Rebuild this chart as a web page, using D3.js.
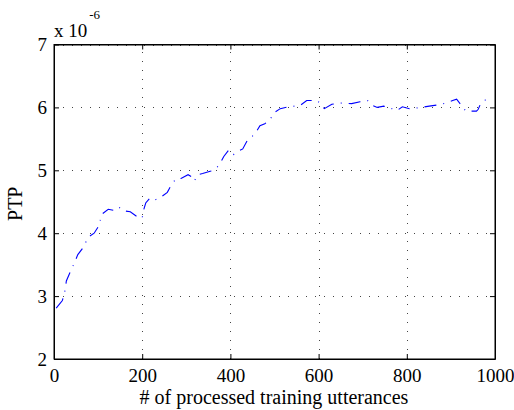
<!DOCTYPE html>
<html>
<head>
<meta charset="utf-8">
<script src="https://cdn.jsdelivr.net/npm/d3@7"></script>
<style>
  html, body { margin: 0; padding: 0; background: #fff; }
  svg { display: block; }
</style>
</head>
<body>
<svg id="chart" width="514" height="410"></svg>
<script>
// Data (PTP in units of 1e-6)
const utterances = [5, 19, 25, 28, 36, 47, 54, 66, 78, 91, 102, 108, 123, 137, 148, 155, 173, 189, 200, 202, 208, 218, 229, 240, 257, 266, 277, 288, 304, 314, 318, 326, 337, 356, 369, 376, 385, 396, 407, 414, 428, 438, 456, 467, 478, 488, 500, 513, 531, 558, 573, 596, 603, 609, 613, 630, 649, 675, 694, 711, 720, 733, 748, 766, 778, 790, 806, 822, 851, 870, 890, 904, 913, 923, 934, 958, 962, 968, 987];
const ptp = [2.81, 2.93, 3.09, 3.24, 3.37, 3.54, 3.66, 3.77, 3.94, 4.0, 4.12, 4.3, 4.38, 4.36, 4.41, 4.36, 4.34, 4.26, 4.24, 4.34, 4.48, 4.56, 4.53, 4.56, 4.65, 4.77, 4.87, 4.87, 4.93, 4.89, 4.83, 4.93, 4.95, 4.99, 5.04, 5.1, 5.22, 5.32, 5.25, 5.29, 5.34, 5.47, 5.58, 5.71, 5.74, 5.79, 5.92, 5.98, 6.01, 6.03, 6.11, 6.11, 6.07, 6.01, 5.98, 6.05, 6.07, 6.06, 6.09, 6.11, 6.04, 6.0, 6.02, 5.98, 5.95, 6.01, 5.98, 5.99, 6.02, 6.04, 6.07, 6.11, 6.13, 6.04, 5.94, 5.94, 5.97, 6.07, 6.16];
const xTicks = [0, 200, 400, 600, 800, 1000];
const yTicks = [2, 3, 4, 5, 6, 7];
const xLabel = "# of processed training utterances";
const yLabel = "PTP";

const FONT = "Liberation Serif";
const svg = d3.select("#chart");
const L = 54, R = 495, T = 44.5, B = 359;
const x = d3.scaleLinear().domain([0, 1000]).range([L, R]);
const y = d3.scaleLinear().domain([2, 7]).range([B, T]);

// grid
const grid = svg.append("g").attr("stroke", "#444").attr("stroke-width", 1).attr("stroke-dasharray", "1,8").attr("shape-rendering", "crispEdges");
grid.selectAll(".gx").data(xTicks).join("line")
  .attr("x1", d => Math.round(x(d)) + 0.5).attr("x2", d => Math.round(x(d)) + 0.5)
  .attr("y1", B).attr("y2", T);
grid.selectAll(".gy").data(yTicks).join("line")
  .attr("x1", L).attr("x2", R)
  .attr("y1", d => Math.round(y(d)) + 0.5).attr("y2", d => Math.round(y(d)) + 0.5);

// line
const line = d3.line().x((d, i) => x(utterances[i])).y(d => y(d));
svg.append("path").datum(ptp)
  .attr("d", line)
  .attr("fill", "none")
  .attr("stroke", "#0000ff")
  .attr("stroke-width", 1.1)
  .attr("stroke-dasharray", "12,7,1,7");

// axes (inward ticks, box)
const tk = 5;
const fs = 19;
const gB = svg.append("g").attr("transform", `translate(0,${B})`)
  .call(d3.axisBottom(x).tickValues(xTicks).tickSizeInner(-tk).tickSizeOuter(0).tickPadding(10).tickFormat(d3.format("d")));
const gT = svg.append("g").attr("transform", `translate(0,${T})`)
  .call(d3.axisTop(x).tickValues(xTicks).tickSizeInner(-tk).tickSizeOuter(0).tickFormat(""));
const gL = svg.append("g").attr("transform", `translate(${L},0)`)
  .call(d3.axisLeft(y).tickValues(yTicks).tickSizeInner(-tk).tickSizeOuter(0).tickPadding(7).tickFormat(d3.format("d")));
const gR = svg.append("g").attr("transform", `translate(${R},0)`)
  .call(d3.axisRight(y).tickValues(yTicks).tickSizeInner(-tk).tickSizeOuter(0).tickFormat(""));
[gB, gT, gL, gR].forEach(g => {
  g.attr("font-family", FONT).attr("font-size", fs);
  g.select(".domain").attr("stroke", "#000").attr("stroke-width", 1);
  g.selectAll(".tick line").attr("stroke", "#000");
  g.selectAll("text").attr("fill", "#000");
});
gB.selectAll(".tick text").attr("dy", "0.71em");
gL.selectAll(".tick text").attr("dy", "0.33em");

// box
svg.append("rect").attr("x", L).attr("y", T).attr("width", R - L).attr("height", B - T)
  .attr("fill", "none").attr("stroke", "#000").attr("stroke-width", 1);

// labels
svg.append("text").attr("x", 274).attr("y", 404).attr("text-anchor", "middle")
  .attr("font-family", FONT).attr("font-size", 20).attr("fill", "#000").text(xLabel);
svg.append("text").attr("transform", `translate(22,${(T + B) / 2 + 2}) rotate(-90)`).attr("text-anchor", "middle")
  .attr("font-family", FONT).attr("font-size", 20).attr("fill", "#000").text(yLabel);

// exponent label
const ex = svg.append("text").attr("x", 54).attr("y", 37).attr("font-family", FONT).attr("font-size", fs).attr("fill", "#000");
ex.append("tspan").text("x 10");
ex.append("tspan").attr("dy", -18).attr("dx", 2).attr("font-size", 13).text("-6");
</script>
</body>
</html>
